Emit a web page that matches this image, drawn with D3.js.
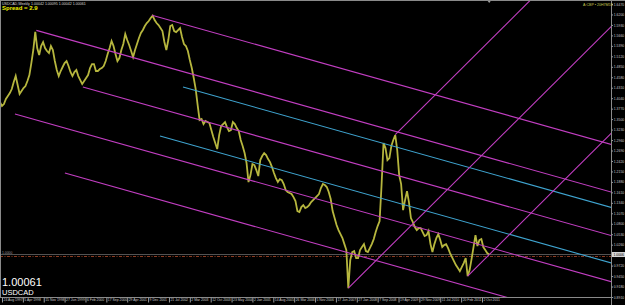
<!DOCTYPE html>
<html>
<head>
<meta charset="utf-8">
<script src="https://cdn.jsdelivr.net/npm/d3@7"></script>
<style>
  body { margin: 0; background: #000; }
  svg { display: block; font-family: "Liberation Sans", Arial, sans-serif; }
</style>
</head>
<body>
<div id="chart"></div>
<script>
const symbol = "USDCAD";
const header = "USDCAD,Weekly  1.00042 1.00095 1.00042 1.00061";
const spreadText = "Spread = 2.9";
const clockText = "A:CBP \u2022 20H7M5S";
const lastPrice = 1.00061;
const levelPrice = 0.9955;

// weekly closes, one every 3 weeks from 3 Aug 1997
const firstDate = "1997-08-03";
const stepDays = 21;
const closes = [
  1.3940, 1.3837, 1.3889, 1.4018, 1.4095, 1.4173, 1.4276, 1.4457, 1.4611, 1.4379,
  1.4147, 1.4224, 1.4302, 1.4353, 1.4482, 1.4637, 1.4947, 1.5283, 1.5750, 1.5334,
  1.5153, 1.5386, 1.5489, 1.5334, 1.5257, 1.5205, 1.5386, 1.5283, 1.4999, 1.4766,
  1.4611, 1.4741, 1.4844, 1.4947, 1.4999, 1.4870, 1.4715, 1.4611, 1.4715, 1.4766,
  1.4611, 1.4508, 1.4405, 1.4482, 1.4560, 1.4637, 1.4818, 1.4921, 1.4921, 1.4741,
  1.4741, 1.4792, 1.4818, 1.4870, 1.4999, 1.5179, 1.5334, 1.5515, 1.5386, 1.5179,
  1.4999, 1.5076, 1.5283, 1.5437, 1.5696, 1.5541, 1.5412, 1.5257, 1.5102, 1.5283,
  1.5437, 1.5592, 1.5721, 1.5799, 1.5902, 1.5979, 1.6031, 1.6108, 1.6170, 1.6057,
  1.5979, 1.5928, 1.5850, 1.5773, 1.5489, 1.5283, 1.5541, 1.5902, 1.5928, 1.5773,
  1.5747, 1.5799, 1.5850, 1.5618, 1.5437, 1.5386, 1.5257, 1.5024, 1.4818, 1.4560,
  1.4276, 1.3863, 1.3476, 1.3502, 1.3373, 1.3450, 1.3424, 1.3398, 1.3218, 1.3037,
  1.2882, 1.2727, 1.3089, 1.3321, 1.3373, 1.3424, 1.3295, 1.3192, 1.3218, 1.3424,
  1.3373, 1.3269, 1.3192, 1.2960, 1.2805, 1.2624, 1.2366, 1.1876, 1.2056, 1.2340,
  1.2314, 1.2185, 1.2030, 1.2443, 1.2547, 1.2624, 1.2572, 1.2469, 1.2392, 1.2263,
  1.2108, 1.1979, 1.1876, 1.1953, 1.1927, 1.1824, 1.1669, 1.1618, 1.1592, 1.1566,
  1.1488, 1.1385, 1.1127, 1.1101, 1.1230, 1.1282, 1.1205, 1.1230, 1.1282, 1.1359,
  1.1411, 1.1463, 1.1514, 1.1566, 1.1721, 1.1824, 1.1798, 1.1747, 1.1618, 1.1437,
  1.1127, 1.0946, 1.0766, 1.0637, 1.0534, 1.0430, 1.0275, 1.0121, 0.9140, 0.9862,
  1.0069, 1.0095, 0.9914, 0.9914, 1.0121, 1.0198, 1.0275, 1.0095, 1.0069, 1.0172,
  1.0275, 1.0404, 1.0585, 1.0740, 1.0869, 1.1798, 1.2882, 1.2753, 1.2443, 1.2495,
  1.2805, 1.2960, 1.3090, 1.2702, 1.2056, 1.1824, 1.1153, 1.1411, 1.1643, 1.1359,
  1.0946, 1.0843, 1.0714, 1.0637, 1.0688, 1.0688, 1.0585, 1.0482, 1.0508, 1.0611,
  1.0275, 1.0069, 1.0275, 1.0430, 1.0534, 1.0379, 1.0198, 1.0250, 1.0275, 1.0172,
  1.0043, 0.9940, 0.9837, 0.9733, 0.9656, 0.9579, 0.9682, 0.9785, 0.9914, 0.9450,
  0.9604, 0.9888, 1.0198, 1.0508, 1.0224, 1.0379, 1.0404, 1.0198, 1.0121, 1.0043,
  1.0006
];

const dateLabels = [
  "1997-08-24", "1998-04-05", "1998-11-15", "1999-06-27", "2000-02-06", "2000-09-17",
  "2001-04-29", "2001-12-09", "2002-07-21", "2003-03-02", "2003-10-12", "2004-05-23",
  "2005-01-02", "2005-08-14", "2006-03-26", "2006-11-05", "2007-06-17", "2008-01-27",
  "2008-09-07", "2009-04-19", "2009-11-29", "2010-07-11", "2011-02-20", "2011-10-02"
];
const priceLabels = [
  1.6470, 1.6200, 1.5930, 1.5660, 1.5390, 1.5120, 1.4850, 1.4580, 1.4310, 1.4040,
  1.3770, 1.3500, 1.3230, 1.2960, 1.2690, 1.2420, 1.2150, 1.1880, 1.1610, 1.1340,
  1.1070, 1.0800, 1.0530, 1.0260, 0.9990, 0.9720, 0.9450, 0.9180, 0.8910
];

// falling channel: base line (two points), then anchors of the parallels
const channelBase = [["2002-01-20", 1.6180], ["2015-07-07", 1.2856]];
const magentaAnchors = [
  ["2002-01-20", 1.6180], ["1998-08-28", 1.5790], ["2000-01-09", 1.4330],
  ["1998-01-10", 1.3631], ["1999-06-30", 1.2108]
];
const cyanAnchors = [["2002-12-19", 1.4328], ["2002-04-16", 1.3063]];
// rising pitchfork: 2007 low, 2009 high, 2011 low
const pitchfork = [["2007-10-28", 0.9140], ["2009-03-15", 1.3100], ["2011-05-01", 0.9450]];

const W = 625, H = 305;
const plotRight = 611, plotBottom = 297;
const parse = d3.utcParse("%Y-%m-%d");

const svg = d3.select('#chart').append('svg')
  .attr('width', W).attr('height', H)
  .style('background', '#000');

const x = d3.scaleUtc()
  .domain([parse("1997-08-24"), parse("2011-10-02")])
  .range([2, 482]);
const y = d3.scaleLinear()
  .domain([0.8910, 1.6470])
  .range([plotBottom, 4]);

svg.append('clipPath').attr('id', 'plot')
  .append('rect').attr('x', 0).attr('y', 1).attr('width', plotRight).attr('height', plotBottom - 1);

const g = svg.append('g').attr('clip-path', 'url(#plot)');

const start = parse(firstDate);
const series = closes.map((c, i) => ({ date: d3.utcDay.offset(start, i * stepDays), close: c }));

// level lines
g.append('line')
  .attr('x1', 0).attr('x2', plotRight)
  .attr('y1', y(lastPrice)).attr('y2', y(lastPrice))
  .attr('stroke', '#6a6a6a').attr('stroke-width', 0.8);
g.append('line')
  .attr('x1', 0).attr('x2', plotRight)
  .attr('y1', y(levelPrice)).attr('y2', y(levelPrice))
  .attr('stroke', '#b04a2a').attr('stroke-width', 0.8)
  .attr('stroke-dasharray', '3,1.5,1,1.5');
g.append('text')
  .attr('x', 2).attr('y', y(lastPrice) - 0.5)
  .attr('font-size', 3.4).attr('fill', '#9a9a9a')
  .text('1.0000');

// price
const line = d3.line().x(d => x(d.date)).y(d => y(d.close));
g.append('path').datum(series)
  .attr('d', line)
  .attr('fill', 'none')
  .attr('stroke', '#b6b63e')
  .attr('stroke-width', 1.8)
  .attr('stroke-linejoin', 'miter');

// rays
function ray(date, price, slope, color) {
  const x0 = x(parse(date)), y0 = y(price);
  g.append('line')
    .attr('x1', x0).attr('y1', y0)
    .attr('x2', plotRight + 5).attr('y2', y0 + slope * (plotRight + 5 - x0))
    .attr('stroke', color).attr('stroke-width', 1.1);
}

const b0 = channelBase[0], b1 = channelBase[1];
const downSlope = (y(b1[1]) - y(b0[1])) / (x(parse(b1[0])) - x(parse(b0[0])));
magentaAnchors.forEach(a => ray(a[0], a[1], downSlope, '#c23ec2'));
cyanAnchors.forEach(a => ray(a[0], a[1], downSlope, '#3fa4d0'));

const px = pitchfork.map(p => [x(parse(p[0])), y(p[1])]);
const mid = [(px[1][0] + px[2][0]) / 2, (px[1][1] + px[2][1]) / 2];
const upSlope = (mid[1] - px[0][1]) / (mid[0] - px[0][0]);
pitchfork.forEach(p => ray(p[0], p[1], upSlope, '#c23ec2'));

// frame
svg.append('line').attr('x1', 0).attr('x2', W).attr('y1', 0.5).attr('y2', 0.5).attr('stroke', '#8a8a8a');
svg.append('line').attr('x1', 0.5).attr('x2', 0.5).attr('y1', 0).attr('y2', plotBottom).attr('stroke', '#8a8a8a');
svg.append('line').attr('x1', plotRight + 0.5).attr('x2', plotRight + 0.5).attr('y1', 0).attr('y2', H).attr('stroke', '#8a8a8a');
svg.append('line').attr('x1', 0).attr('x2', plotRight).attr('y1', plotBottom + 0.5).attr('y2', plotBottom + 0.5).attr('stroke', '#8a8a8a');

// shift marker
const lastX = x(series[series.length - 1].date);
svg.append('path')
  .attr('d', `M${lastX - 1.5},1 L${lastX + 1.5},1 L${lastX},3 Z`)
  .attr('fill', '#9a9a9a');

// price axis
const yAxis = svg.append('g')
  .attr('transform', `translate(${plotRight + 0.5},0)`)
  .call(d3.axisRight(y).tickValues(priceLabels.filter(p => Math.abs(y(p) - y(lastPrice)) > 3))
    .tickFormat(d3.format('.4f')).tickSize(1.5).tickPadding(0.8));
yAxis.select('.domain').remove();
yAxis.selectAll('line').attr('stroke', '#9a9a9a');
yAxis.selectAll('text').attr('fill', '#c8c8c8').attr('font-size', 3.4)
  .attr('font-family', '"Liberation Sans", Arial, sans-serif');

svg.append('rect')
  .attr('x', plotRight + 1).attr('y', y(lastPrice) - 2.5)
  .attr('width', W - plotRight - 1).attr('height', 5)
  .attr('fill', '#d8d8d8');
svg.append('text')
  .attr('x', plotRight + 2.5).attr('y', y(lastPrice) + 1.3)
  .attr('font-size', 3.4).attr('fill', '#000')
  .text(d3.format('.4f')(lastPrice));

// time axis
const xAxis = svg.append('g')
  .attr('transform', `translate(0,${plotBottom + 0.5})`)
  .call(d3.axisBottom(x).tickValues(dateLabels.map(parse))
    .tickFormat(d3.utcFormat('%-d %b %Y')).tickSize(5).tickPadding(0));
xAxis.select('.domain').remove();
xAxis.selectAll('line').attr('stroke', '#9a9a9a');
xAxis.selectAll('text')
  .attr('text-anchor', 'start').attr('x', 1).attr('y', 1)
  .attr('fill', '#c8c8c8').attr('font-size', 3.4)
  .attr('font-family', '"Liberation Sans", Arial, sans-serif');

// labels
svg.append('text').attr('x', 2).attr('y', 4.5)
  .attr('font-size', 3.6).attr('fill', '#d8d8d8').text(header);
svg.append('text').attr('x', 2).attr('y', 10)
  .attr('font-size', 6).attr('font-weight', 'bold').attr('fill', '#f0f000').text(spreadText);
svg.append('text').attr('x', 583).attr('y', 6)
  .attr('font-size', 3.6).attr('fill', '#c8c850').text(clockText);
svg.append('text').attr('x', 2).attr('y', 286)
  .attr('font-size', 11).attr('fill', '#ffffff').text(d3.format('.5f')(lastPrice));
svg.append('text').attr('x', 2).attr('y', 295)
  .attr('font-size', 7.5).attr('fill', '#ffffff').text(symbol);
</script>
</body>
</html>
